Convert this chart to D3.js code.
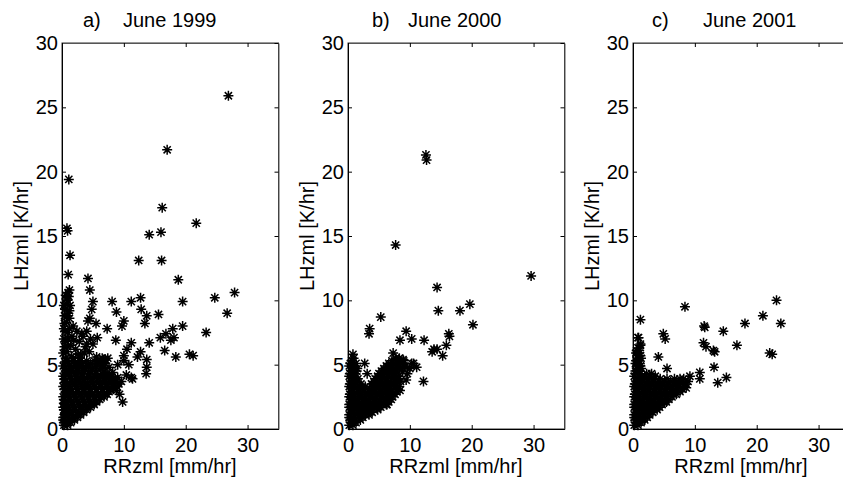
<!DOCTYPE html>
<html>
<head>
<meta charset="utf-8">
<script src="https://cdn.jsdelivr.net/npm/d3@7"></script>
<style>
  html, body { margin: 0; padding: 0; background: #fff; }
  svg { display: block; }
  text { font-family: "Liberation Sans", Arial, Helvetica, sans-serif; fill: #000; }
</style>
</head>
<body>
<svg id="chart" width="843" height="478"></svg>
<script>
// ---------- data ----------
const xTicks = [0, 10, 20, 30];
const yTicks = [0, 5, 10, 15, 20, 25, 30];
const panelLetters = ["a)", "b)", "c)"];
const panelTitles = ["June 1999", "June 2000", "June 2001"];
const xAxisLabel = "RRzml [mm/hr]";
const yAxisLabel = "LHzml [K/hr]";

// [RRzml, LHzml]
const june1999 = [
  [26.9,25.9],[17.0,21.7],[1.1,19.4],[0.8,15.6],[0.9,15.4],[1.3,13.5],[1.0,12.0],
  [16.2,17.2],[21.7,16.0],[14.1,15.1],[16.0,15.3],[12.4,13.1],[16.1,13.1],[18.8,11.6],
  [4.2,11.7],[4.5,10.8],[1.2,10.8],[27.9,10.6],[24.7,10.2],[19.5,9.9],[26.7,9.0],
  [12.7,10.2],[11.2,9.9],[8.1,9.9],[12.8,9.3],[5.0,9.9],[4.8,9.3],[8.8,9.1],[10.0,8.4],
  [9.7,8.0],[13.7,8.8],[15.6,8.9],[13.4,8.2],[4.5,8.6],[4.2,8.4],[5.5,8.2],[7.3,7.8],
  [4.0,7.6],[3.2,7.4],[17.9,7.8],[19.5,8.0],[23.3,7.5],[16.8,7.4],[15.9,7.1],[17.6,6.9],
  [18.1,7.1],[8.7,6.9],[11.2,6.7],[14.1,6.7],[16.6,6.1],[18.4,5.6],[20.6,5.8],[21.2,5.7],
  [12.7,6.0],[13.7,5.4],[12.2,5.6],[10.5,6.2],[10.0,5.7],[13.7,4.8],[13.6,4.3],[11.4,3.9],
  [9.8,2.1],[6.7,5.4],[3.0,5.8],[4.0,6.6],[5.7,7.1],
  // column near the y axis
  [0.3,0.5],[0.5,1.2],[0.3,2.0],[0.6,2.8],[0.4,3.6],[0.7,4.4],[0.5,5.2],[0.8,6.0],
  [0.6,6.8],[0.9,7.5],[0.7,8.3],[1.0,9.0],[0.8,9.7],[1.1,10.3],[0.4,6.4],[0.3,7.8],
  [1.2,8.6],[0.5,9.3],[0.7,10.1],[1.0,10.6],[1.5,5.6],[1.4,6.5],[1.6,7.2],[1.8,8.0],
  [1.3,9.6],[0.4,8.8],
  [0.2,5.9],[0.9,6.4],[0.3,7.0],[1.0,7.0],[0.5,7.6],[1.2,7.8],[0.4,8.2],[0.9,8.8],
  [0.3,9.6],[0.9,10.0],[1.2,9.2],[0.6,10.4],
  // dense cloud
  [0.3,0.3],[0.9,0.3],
  [0.6,0.5],[1.4,0.5],
  [0.2,0.7],[1.2,0.7],[2.0,0.7],
  [0.2,0.9],[1.0,0.9],[1.8,0.9],[2.5,0.9],
  [0.5,1.1],[1.5,1.1],[2.5,1.1],[3.0,1.1],
  [0.7,1.3],[1.7,1.3],[2.7,1.3],[3.5,1.3],
  [0.3,1.5],[1.2,1.5],[2.2,1.5],[3.2,1.5],[4.0,1.5],
  [0.2,1.7],[1.0,1.7],[2.0,1.7],[3.0,1.7],[4.0,1.7],[4.6,1.7],
  [0.6,1.9],[1.6,1.9],[2.7,1.9],[3.7,1.9],[4.7,1.9],[5.2,1.9],
  [0.6,2.1],[1.6,2.1],[2.6,2.1],[3.6,2.1],[4.6,2.1],[5.6,2.1],
  [0.3,2.3],[1.3,2.3],[2.3,2.3],[3.3,2.3],[4.3,2.3],[5.3,2.3],[6.1,2.3],
  [0.2,2.5],[1.2,2.5],[2.2,2.5],[3.2,2.5],[4.2,2.5],[5.2,2.5],[6.2,2.5],[6.8,2.5],
  [0.8,2.7],[1.9,2.7],[2.9,2.7],[3.9,2.7],[4.9,2.7],[5.9,2.7],[6.9,2.7],[7.3,2.7],
  [0.6,2.9],[1.6,2.9],[2.6,2.9],[3.6,2.9],[4.6,2.9],[5.6,2.9],[6.6,2.9],[7.6,2.9],
  [0.4,3.1],[1.4,3.1],[2.5,3.1],[3.5,3.1],[4.5,3.1],[5.6,3.1],[6.6,3.1],[7.6,3.1],[8.3,3.1],
  [0.2,3.3],[1.2,3.3],[2.2,3.3],[3.2,3.3],[4.2,3.3],[5.2,3.3],[6.2,3.3],[7.2,3.3],[8.2,3.3],[8.9,3.3],
  [0.9,3.5],[2.0,3.5],[3.0,3.5],[4.1,3.5],[5.1,3.5],[6.2,3.5],[7.2,3.5],[8.2,3.5],[9.2,3.5],
  [0.6,3.7],[1.6,3.7],[2.6,3.7],[3.6,3.7],[4.6,3.7],[5.6,3.7],[6.6,3.7],[7.6,3.7],[8.6,3.7],
  [0.4,3.9],[1.5,3.9],[2.6,3.9],[3.6,3.9],[4.7,3.9],[5.8,3.9],[6.8,3.9],[7.8,3.9],[8.6,3.9],
  [0.2,4.1],[1.2,4.1],[2.2,4.1],[3.2,4.1],[4.2,4.1],[5.2,4.1],[6.2,4.1],[7.2,4.1],[8.0,4.1],
  [1.0,4.3],[2.1,4.3],[3.2,4.3],[4.3,4.3],[5.4,4.3],[6.5,4.3],[7.3,4.3],
  [0.6,4.5],[1.6,4.5],[2.6,4.5],[3.6,4.5],[4.6,4.5],[5.6,4.5],[6.8,4.5],
  [0.5,4.7],[1.6,4.7],[2.7,4.7],[3.8,4.7],[4.9,4.7],[6.2,4.7],
  [0.2,4.9],[1.2,4.9],[2.2,4.9],[3.2,4.9],[4.2,4.9],[5.4,4.9],[6.6,4.9],
  [1.1,5.1],[2.2,5.1],[3.3,5.1],[4.6,5.1],[5.8,5.1],[7.0,5.1],
  [0.8,5.3],[1.8,5.3],[2.8,5.3],[4.0,5.3],[5.2,5.3],
  [0.6,5.5],[1.8,5.5],[2.9,5.5],[6.5,5.5],[7.4,5.5],
  // scattered around the cloud
  [2.2,6.2],[2.8,6.8],[3.4,7.2],[2.6,5.8],[3.8,6.4],[4.4,6.0],[5.0,6.6],[4.6,7.0],
  [1.9,6.9],[2.4,7.6],[3.6,5.9],[5.6,5.6],[6.2,5.2],[7.0,5.4],[7.6,4.8],[8.2,4.4],
  [9.0,4.0],[9.6,3.7],[10.4,4.2],[10.8,5.0],[10.0,5.3],[11.2,4.0],[9.0,5.0],[8.8,3.0],
  [9.3,2.7]
];

const june2000 = [
  [12.6,21.3],[12.7,20.9],[7.7,14.3],[29.6,11.9],[14.4,11.0],[14.6,9.2],[19.7,9.7],
  [18.1,9.2],[20.2,8.1],[5.3,8.7],[3.5,7.8],[3.4,7.4],[9.4,7.6],[8.4,6.9],[10.3,7.0],
  [12.3,6.9],[16.3,7.4],[16.4,7.2],[15.9,6.5],[13.9,6.2],[14.4,6.2],[13.6,6.0],[15.3,5.7],
  [12.2,3.7],[7.3,5.9],[0.8,5.8],[2.7,5.1],[3.1,4.3],[11.1,4.8],[10.3,5.1],[9.2,4.8],
  [7.9,5.2],[8.9,5.4],[9.4,3.8],[8.1,3.9],[8.4,3.0],[6.2,1.9],
  // dense cloud
  [0.2,0.3],[0.8,0.3],
  [0.5,0.5],[1.3,0.5],
  [0.4,0.7],[1.2,0.7],[2.0,0.7],
  [0.2,0.9],[0.9,0.9],[1.7,0.9],[2.4,0.9],
  [0.2,1.1],[1.0,1.1],[1.9,1.1],[2.8,1.1],[3.4,1.1],
  [0.6,1.3],[1.5,1.3],[2.4,1.3],[3.3,1.3],[3.9,1.3],
  [0.5,1.5],[1.4,1.5],[2.3,1.5],[3.2,1.5],[4.1,1.5],[4.8,1.5],
  [0.2,1.7],[1.0,1.7],[1.9,1.7],[2.8,1.7],[3.7,1.7],[4.6,1.7],[5.3,1.7],
  [0.2,1.9],[1.0,1.9],[1.9,1.9],[2.8,1.9],[3.7,1.9],[4.6,1.9],[5.5,1.9],[6.3,1.9],
  [0.6,2.1],[1.5,2.1],[2.4,2.1],[3.3,2.1],[4.2,2.1],[5.1,2.1],[6.0,2.1],[6.6,2.1],
  [0.6,2.3],[1.5,2.3],[2.4,2.3],[3.3,2.3],[4.2,2.3],[5.1,2.3],[6.0,2.3],[7.0,2.3],
  [0.2,2.5],[1.0,2.5],[1.9,2.5],[2.8,2.5],[3.7,2.5],[4.6,2.5],[5.5,2.5],[6.4,2.5],[7.2,2.5],
  [0.3,2.7],[1.1,2.7],[2.0,2.7],[2.9,2.7],[3.8,2.7],[4.7,2.7],[5.6,2.7],[6.5,2.7],[7.6,2.7],
  [0.6,2.9],[1.5,2.9],[2.4,2.9],[3.3,2.9],[4.2,2.9],[5.1,2.9],[6.0,2.9],[6.9,2.9],[7.9,2.9],
  [0.7,3.1],[1.6,3.1],[2.6,3.1],[3.5,3.1],[4.4,3.1],[5.3,3.1],[6.2,3.1],[7.1,3.1],[8.0,3.1],
  [0.2,3.3],[1.0,3.3],[1.9,3.3],[2.8,3.3],[4.0,3.3],[4.9,3.3],[5.8,3.3],[6.7,3.3],[7.6,3.3],[8.3,3.3],
  [0.3,3.5],[1.2,3.5],[2.1,3.5],[3.8,3.5],[4.7,3.5],[5.6,3.5],[6.5,3.5],[7.4,3.5],
  [0.6,3.7],[1.5,3.7],[4.2,3.7],[5.1,3.7],[6.0,3.7],[6.9,3.7],[7.8,3.7],[8.5,3.7],
  [0.8,3.9],[1.6,3.9],[4.4,3.9],[5.3,3.9],[6.2,3.9],[7.1,3.9],[7.8,3.9],
  [0.2,4.1],[1.0,4.1],[4.8,4.1],[5.6,4.1],[6.5,4.1],[7.4,4.1],[8.2,4.1],
  [0.3,4.3],[1.2,4.3],[5.0,4.3],[5.9,4.3],[6.8,4.3],[7.5,4.3],[9.6,4.3],
  [0.6,4.5],[1.4,4.5],[5.4,4.5],[6.2,4.5],[7.0,4.5],[7.8,4.5],[8.8,4.5],
  [0.8,4.7],[1.5,4.7],[5.8,4.7],[6.6,4.7],[7.4,4.7],[8.3,4.7],[10.0,4.7],
  [0.2,4.9],[1.0,4.9],[6.2,4.9],[7.0,4.9],[7.9,4.9],[9.2,4.9],
  [0.4,5.1],[1.3,5.1],[6.6,5.1],[7.4,5.1],[8.5,5.1],[10.6,5.1],
  [0.6,5.3],[7.1,5.3],[8.0,5.3],[9.0,5.3],
  [0.9,5.5],[7.7,5.5],[8.3,5.5]
];

const june2001 = [
  [23.2,10.0],[21.0,8.8],[23.9,8.2],[18.1,8.2],[14.6,7.6],[11.5,8.0],[11.6,7.9],[8.4,9.5],
  [1.2,8.5],[0.8,7.1],[4.9,7.4],[5.2,7.0],[1.2,6.5],[11.4,6.7],[11.8,6.4],[13.2,6.0],
  [13.0,6.1],[16.8,6.5],[22.1,5.9],[22.5,5.8],[4.1,5.6],[13.1,4.8],[5.5,4.7],[10.8,4.4],
  [10.8,3.9],[15.1,4.0],[13.7,3.6],[9.2,4.1],[8.6,3.2],
  // dense cloud
  [0.2,0.3],[0.8,0.3],
  [0.5,0.5],[1.3,0.5],
  [0.4,0.7],[1.2,0.7],[1.9,0.7],
  [0.2,0.9],[0.9,0.9],[1.6,0.9],[2.3,0.9],
  [0.2,1.1],[1.0,1.1],[1.9,1.1],[2.7,1.1],
  [0.6,1.3],[1.5,1.3],[2.4,1.3],[3.2,1.3],
  [0.5,1.5],[1.4,1.5],[2.3,1.5],[3.2,1.5],[3.9,1.5],
  [0.2,1.7],[1.0,1.7],[1.9,1.7],[2.8,1.7],[3.7,1.7],[4.3,1.7],
  [0.2,1.9],[1.0,1.9],[1.9,1.9],[2.8,1.9],[3.7,1.9],[4.7,1.9],
  [0.6,2.1],[1.5,2.1],[2.4,2.1],[3.3,2.1],[4.2,2.1],[5.1,2.1],[5.4,2.1],
  [0.6,2.3],[1.5,2.3],[2.4,2.3],[3.3,2.3],[4.2,2.3],[5.1,2.3],[5.8,2.3],
  [0.2,2.5],[1.0,2.5],[1.9,2.5],[2.8,2.5],[3.7,2.5],[4.6,2.5],[5.5,2.5],[6.3,2.5],
  [0.3,2.7],[1.1,2.7],[2.0,2.7],[2.9,2.7],[3.8,2.7],[4.7,2.7],[5.6,2.7],[6.6,2.7],[7.0,2.7],
  [0.6,2.9],[1.5,2.9],[2.4,2.9],[3.3,2.9],[4.2,2.9],[5.1,2.9],[6.0,2.9],[6.9,2.9],[7.6,2.9],
  [0.7,3.1],[1.6,3.1],[2.6,3.1],[3.5,3.1],[4.4,3.1],[5.3,3.1],[6.2,3.1],[7.1,3.1],[8.0,3.1],
  [0.2,3.3],[1.0,3.3],[1.9,3.3],[2.8,3.3],[3.7,3.3],[4.6,3.3],[5.5,3.3],[6.4,3.3],[7.3,3.3],[8.3,3.3],
  [0.3,3.5],[1.2,3.5],[2.1,3.5],[3.0,3.5],[3.9,3.5],[4.8,3.5],[5.7,3.5],[6.6,3.5],[7.5,3.5],[8.6,3.5],
  [0.6,3.7],[1.5,3.7],[2.4,3.7],[3.3,3.7],[4.2,3.7],[5.1,3.7],[6.1,3.7],[7.1,3.7],[8.0,3.7],[8.9,3.7],
  [0.8,3.9],[1.6,3.9],[2.5,3.9],[3.4,3.9],[4.4,3.9],[5.5,3.9],[6.7,3.9],[7.6,3.9],[8.2,3.9],
  [0.2,4.1],[1.0,4.1],[1.9,4.1],[2.7,4.1],[3.6,4.1],
  [0.4,4.3],[1.2,4.3],[2.2,4.3],[3.0,4.3],
  [0.4,4.5],[1.0,4.5],
  [0.7,4.7],[1.3,4.7],
  [0.7,4.9],[1.2,4.9],
  [0.4,5.1],[1.1,5.1],
  [0.5,5.3],[1.0,5.3],
  [0.8,5.5],[1.3,5.5],
  [0.7,5.7],[1.2,5.7],
  [0.5,5.9],[1.0,5.9],
  [0.6,6.1],[1.0,6.1],
  [0.8,6.3],[1.2,6.6],[0.9,7.1]
];

const panelData = [june1999, june2000, june2001];

// ---------- layout ----------
const svg = d3.select("#chart");
const plotTop = 43, plotBottom = 429, plotWidth = 216.5;
const plotLefts = [62, 348, 633];
const letterOffsets = [21, 24, 19];
const titleOffsets = [61, 60, 70];
const fontSize = 20;

const star = "M-5,0H5M0,-5V5M-3.6,-3.6L3.6,3.6M-3.6,3.6L3.6,-3.6";

panelData.forEach((data, i) => {
  const left = plotLefts[i];
  const x = d3.scaleLinear().domain([0, 35]).range([left, left + plotWidth]);
  const y = d3.scaleLinear().domain([0, 30]).range([plotBottom, plotTop]);
  const g = svg.append("g");

  // box
  g.append("rect")
    .attr("x", left).attr("y", plotTop)
    .attr("width", plotWidth).attr("height", plotBottom - plotTop)
    .attr("fill", "none").attr("stroke", "#333").attr("stroke-width", 1);

  // bottom axis
  const gx = g.append("g").attr("transform", `translate(0,${plotBottom})`)
    .call(d3.axisBottom(x).tickValues(xTicks).tickSizeInner(-4).tickSizeOuter(0).tickPadding(9));
  // left axis
  const gy = g.append("g").attr("transform", `translate(${left},0)`)
    .call(d3.axisLeft(y).tickValues(yTicks).tickSizeInner(-4).tickSizeOuter(0).tickPadding(4));
  // top & right tick marks
  const gt = g.append("g").attr("transform", `translate(0,${plotTop})`)
    .call(d3.axisTop(x).tickValues(xTicks).tickSizeInner(-4).tickSizeOuter(0).tickFormat(""));
  const gr = g.append("g").attr("transform", `translate(${left + plotWidth},0)`)
    .call(d3.axisRight(y).tickValues(yTicks).tickSizeInner(-4).tickSizeOuter(0).tickFormat(""));

  [gx, gy, gt, gr].forEach(a => {
    a.select(".domain").attr("stroke", "#000").attr("stroke-width", 1);
    a.selectAll(".tick line").attr("stroke", "#000").attr("stroke-width", 1);
    a.selectAll(".tick text").attr("font-size", fontSize)
      .attr("font-family", "'Liberation Sans', Arial, Helvetica, sans-serif").attr("fill", "#000");
  });
  gt.select(".domain").attr("stroke", "#555");
  gr.select(".domain").attr("stroke", "#555");

  // markers
  g.append("g").selectAll("path").data(data).join("path")
    .attr("d", star)
    .attr("transform", d => `translate(${x(d[0])},${y(d[1])})`)
    .attr("fill", "none").attr("stroke", "#000").attr("stroke-width", 1.5);

  // titles
  g.append("text").attr("x", left + letterOffsets[i]).attr("y", 27)
    .attr("font-size", fontSize).text(panelLetters[i]);
  g.append("text").attr("x", left + titleOffsets[i]).attr("y", 27)
    .attr("font-size", fontSize).text(panelTitles[i]);

  // axis labels
  g.append("text").attr("x", left + 108).attr("y", 473)
    .attr("text-anchor", "middle").attr("font-size", fontSize).text(xAxisLabel);
  g.append("text")
    .attr("transform", `translate(${left - 34},236) rotate(-90)`)
    .attr("text-anchor", "middle").attr("font-size", fontSize).text(yAxisLabel);
});
</script>
</body>
</html>
